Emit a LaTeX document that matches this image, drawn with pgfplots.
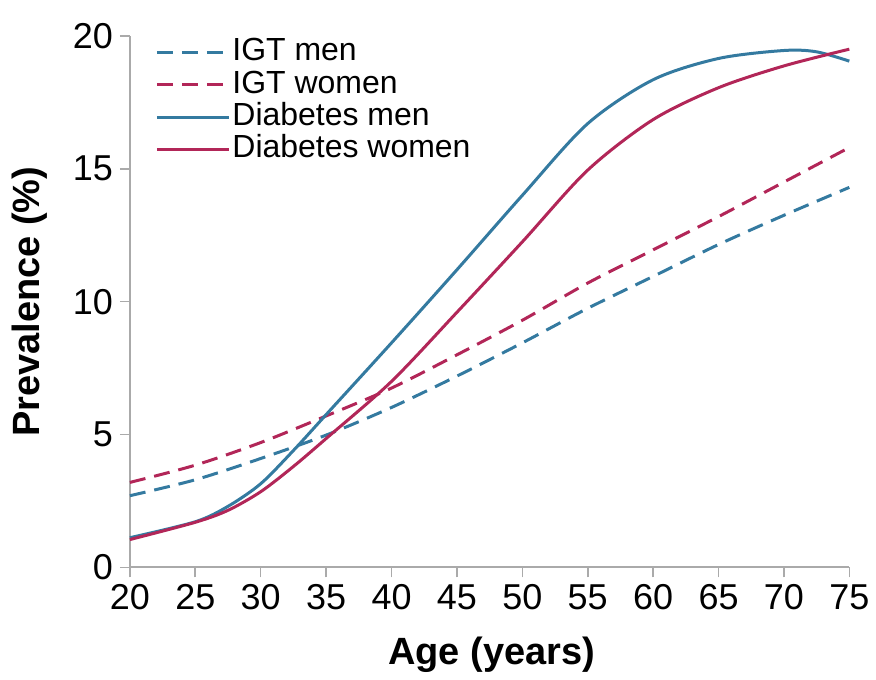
\documentclass[border=0pt]{standalone}
\usepackage{fontspec}
\setmainfont{Liberation Sans}
\usepackage{pgfplots}
\pgfplotsset{compat=1.18}

\definecolor{menblue}{RGB}{52,122,160}
\definecolor{womenred}{RGB}{178,38,88}
\definecolor{axisgray}{RGB}{170,170,170}

\begin{document}
\begin{tikzpicture}
\begin{axis}[
    scale only axis,
    width=360pt,
    height=266pt,
    xmin=20, xmax=75,
    ymin=0, ymax=20,
    xtick={20,25,...,75},
    ytick={0,5,10,15,20},
    axis x line*=bottom,
    axis y line*=left,
    axis line style={axisgray, line width=1pt, -},
    tick style={axisgray, line width=0.8pt},
    tick align=outside,
    major tick length=5pt,
    clip=false,
    ticklabel style={font=\fontsize{18}{20}\selectfont},
    /pgf/number format/assume math mode=true,
    xlabel={Age (years)},
    ylabel={Prevalence (\%)},
    label style={font=\fontsize{19}{22}\selectfont\bfseries},
    xlabel style={at={(axis description cs:0.503,-0.164)}, anchor=center},
    ylabel style={at={(axis description cs:-0.139,0.5)}, anchor=center},
    legend style={
        at={(0.035,1.0)}, anchor=north west,
        draw=none, fill=none, inner sep=0pt,
        font=\fontsize{16}{18}\selectfont,
        row sep=0pt,
        nodes={inner sep=1pt, text height=11.2pt, text depth=3pt, anchor=west},
    },
    legend cell align=left,
    legend image code/.code={\draw[#1] (0pt,0pt) -- (36pt,0pt);},
    every axis plot/.append style={line width=1.5pt},
]
% IGT men
\addplot[menblue, dash pattern=on 8pt off 4.5pt, smooth] coordinates {
    (20,2.7) (25,3.3) (30,4.1) (35,4.98) (40,6.02) (45,7.2)
    (50,8.45) (55,9.75) (60,10.95) (65,12.15) (70,13.25) (75,14.3)};
\addlegendentry{IGT men}
% IGT women
\addplot[womenred, dash pattern=on 8pt off 4.5pt, smooth] coordinates {
    (20,3.2) (25,3.85) (30,4.7) (35,5.7) (40,6.75) (45,8.0)
    (50,9.3) (55,10.7) (60,11.95) (65,13.2) (70,14.5) (75,15.8)};
\addlegendentry{IGT women}
% Diabetes men
\addplot[menblue, smooth] coordinates {
    (20,1.12) (25,1.72) (27.5,2.3) (30,3.15) (32.5,4.4) (35,5.75)
    (40,8.45) (45,11.2) (50,14.0) (55,16.7) (60,18.35) (65,19.15)
    (70,19.45) (72.5,19.4) (75,19.05)};
\addlegendentry{Diabetes men}
% Diabetes women
\addplot[womenred, smooth] coordinates {
    (20,1.05) (25,1.7) (27.5,2.15) (30,2.85) (32.5,3.8) (35,4.85)
    (40,7.0) (45,9.6) (50,12.25) (55,14.95) (60,16.85) (65,18.05)
    (70,18.87) (75,19.5)};
\addlegendentry{Diabetes women}
\path (axis cs:10.07,-3.98) rectangle (axis cs:76.99,21.35);
\end{axis}
\end{tikzpicture}
\end{document}
